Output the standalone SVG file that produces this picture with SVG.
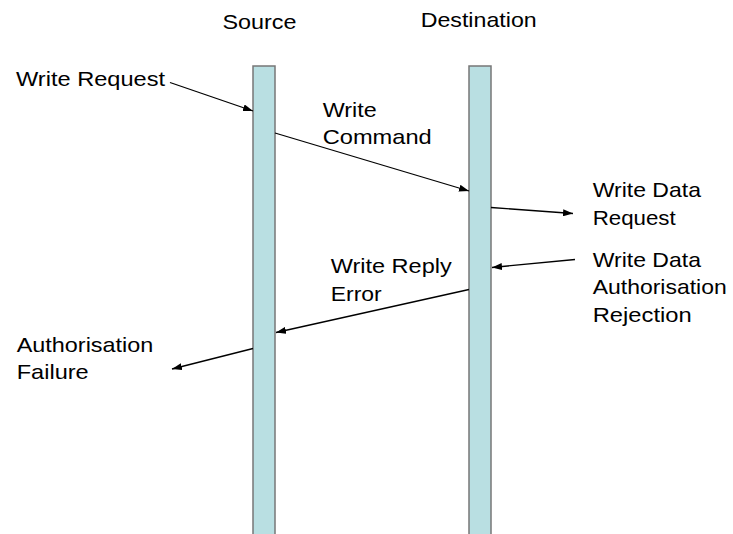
<svg xmlns="http://www.w3.org/2000/svg" width="733" height="534" viewBox="0 0 733 534">
<style>
.bar{fill:#B9DFE2;stroke:#777;stroke-width:1.5}
.lbl{font-family:"Liberation Sans",Arial,sans-serif;font-size:21px;fill:#000}
.msg{stroke:#000;stroke-width:1.3;fill:none;marker-end:url(#ah)}
</style>
<defs>
<marker id="ah" viewBox="0 0 10 8" refX="10" refY="4" markerWidth="10" markerHeight="7" markerUnits="userSpaceOnUse" orient="auto" preserveAspectRatio="none">
<path d="M0,0 L10,4 L0,8 z" fill="#000"/>
</marker>
</defs>
<rect width="733" height="534" fill="#fff"/>
<g id="source">
<rect class="bar" x="253" y="66" width="22" height="470"/>
<text class="lbl" x="222.5" y="29.3" textLength="74" lengthAdjust="spacingAndGlyphs">Source</text>
</g>
<g id="destination">
<rect class="bar" x="469" y="66" width="22" height="470"/>
<text class="lbl" x="420.7" y="27.3" textLength="116" lengthAdjust="spacingAndGlyphs">Destination</text>
</g>
<g id="connectors">
<line class="msg" x1="170" y1="82.5" x2="253" y2="111"/>
<line class="msg" x1="275" y1="133" x2="469" y2="191"/>
<line class="msg" x1="491" y1="207.5" x2="573" y2="213.5"/>
<line class="msg" x1="575" y1="259.5" x2="492" y2="267.5"/>
<line class="msg" x1="469" y1="289.5" x2="276" y2="332.5"/>
<line class="msg" x1="253" y1="348.5" x2="172" y2="369"/>
</g>
<g id="label-write-request">
<text class="lbl" x="16" y="85.5" textLength="149" lengthAdjust="spacingAndGlyphs">Write Request</text>
</g>
<g id="label-write-command">
<text class="lbl" x="322.7" y="116.7" textLength="54" lengthAdjust="spacingAndGlyphs">Write</text>
<text class="lbl" x="322.7" y="144.3" textLength="109" lengthAdjust="spacingAndGlyphs">Command</text>
</g>
<g id="label-write-data-request">
<text class="lbl" x="592.7" y="197.3" textLength="108.3" lengthAdjust="spacingAndGlyphs">Write Data</text>
<text class="lbl" x="592.7" y="225" textLength="83" lengthAdjust="spacingAndGlyphs">Request</text>
</g>
<g id="label-write-data-auth-rejection">
<text class="lbl" x="592.7" y="266.7" textLength="108.3" lengthAdjust="spacingAndGlyphs">Write Data</text>
<text class="lbl" x="592.7" y="294" textLength="134" lengthAdjust="spacingAndGlyphs">Authorisation</text>
<text class="lbl" x="592.7" y="321.7" textLength="99" lengthAdjust="spacingAndGlyphs">Rejection</text>
</g>
<g id="label-write-reply-error">
<text class="lbl" x="330.7" y="273.3" textLength="121" lengthAdjust="spacingAndGlyphs">Write Reply</text>
<text class="lbl" x="330.7" y="301" textLength="51" lengthAdjust="spacingAndGlyphs">Error</text>
</g>
<g id="label-authorisation-failure">
<text class="lbl" x="16.7" y="351.7" textLength="136.6" lengthAdjust="spacingAndGlyphs">Authorisation</text>
<text class="lbl" x="16.7" y="379.3" textLength="72" lengthAdjust="spacingAndGlyphs">Failure</text>
</g>
</svg>
